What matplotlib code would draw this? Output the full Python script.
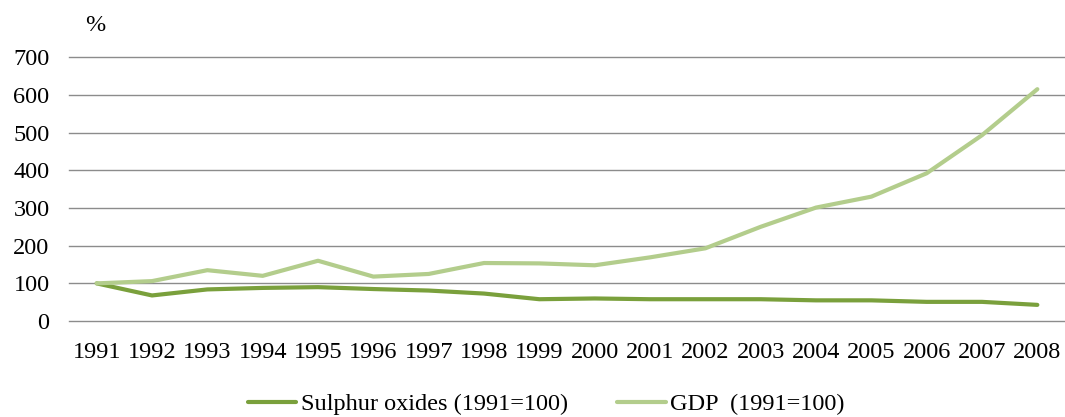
import matplotlib
matplotlib.use("Agg")
import matplotlib.pyplot as plt

years = [str(y) for y in range(1991, 2009)]
sox = [100, 68, 84, 88, 90, 85, 81, 73, 58, 60, 58, 58, 58, 55, 55, 51, 51, 43]
gdp = [100, 106, 135, 120, 160, 118, 125, 154, 153, 148, 169, 193, 250, 301, 330, 392, 493, 615]
yticks = [0, 100, 200, 300, 400, 500, 600, 700]

plt.rcParams['font.family'] = ['Liberation Serif', 'DejaVu Serif']

fig = plt.figure(figsize=(10.65, 4.17), dpi=100)
ax = fig.add_axes([0.0648, 0.230, 0.9352, 0.633])

x = range(len(years))
ax.plot(x, sox, color='#7aa03c', linewidth=3, label='Sulphur oxides (1991=100)', solid_capstyle='round')
ax.plot(x, gdp, color='#b3cd8c', linewidth=3, label='GDP  (1991=100)', solid_capstyle='round')

ax.set_xlim(-0.5, len(years) - 0.5)
ax.set_ylim(0, 700)
ax.set_yticks(yticks)
ax.set_xticks(list(x))
ax.set_xticklabels(years)
ax.grid(axis='y', color='#8c8c8c', linewidth=1)
for gl in ax.get_ygridlines():
    gl.set_clip_on(False)
ax.set_axisbelow(True)
for s in ax.spines.values():
    s.set_visible(False)
ax.tick_params(axis='both', length=0, labelsize=17.5)
ax.tick_params(axis='y', pad=14)
ax.tick_params(axis='x', pad=15)

fig.text(0.089, 0.94, '%', fontsize=17.5, ha='center', va='center')

fig.legend(loc='center', bbox_to_anchor=(0.513, 0.03), ncol=2, frameon=False,
           fontsize=17.5, handlelength=2, handletextpad=0.2, columnspacing=2.0)

fig.savefig('out.png', dpi=100)
